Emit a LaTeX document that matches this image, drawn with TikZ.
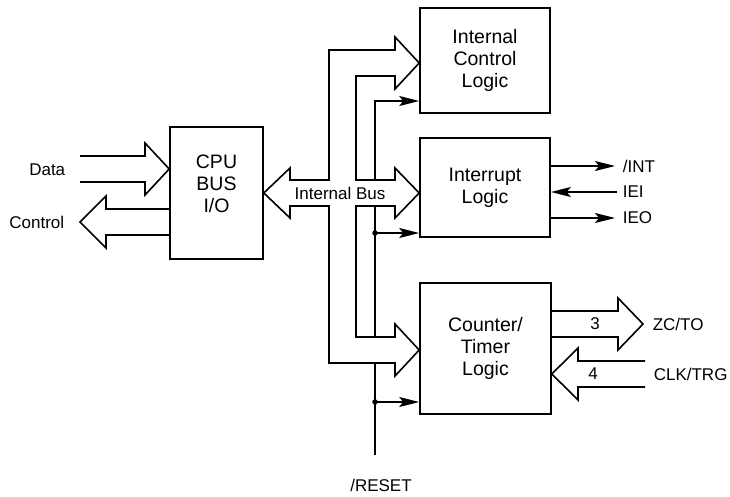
\documentclass[tikz,border=0pt]{standalone}
\usepackage{fontspec}
\setmainfont{Liberation Sans}
\usetikzlibrary{arrows.meta,calc}
\begin{document}
\begin{tikzpicture}[x=1pt,y=-1pt,
  line width=1.6pt, line join=miter,
  blk/.style={draw, rectangle, inner sep=0pt},
  blktext/.style={align=center, font=\fontsize{19.5}{22}\selectfont},
  lbl/.style={font=\fontsize{17}{19}\selectfont, inner sep=0pt},
  sig/.style={-{Stealth[length=20pt,width=10pt,inset=4pt]}},
  junction/.style={circle, fill, inner sep=0pt, minimum size=5.5pt},
]
\useasboundingbox[fill=white] (0,0) rectangle (730,497);

% function blocks
\node[blk, minimum width=93pt, minimum height=132pt] (cpu) at (216.5,193) {};
\node[blktext] (cputext) at (216.5,184) {CPU\\BUS\\I/O};
\node[blk, blktext, minimum width=130pt, minimum height=105pt] (icl) at (485,60.5) {Internal\\Control\\Logic};
\node[blk, blktext, minimum width=130pt, minimum height=99pt] (il) at (485,187.5) {Interrupt\\Logic};
\node[blk, blktext, minimum width=131pt, minimum height=131pt] (ct) at (485.5,348.5) {Counter/\\Timer\\Logic};

% external bus arrows on the CPU side
\node[lbl, anchor=east] (data) at (66,170) {Data};
\node[lbl, anchor=east] (ctrl) at (65,222) {Control};
\draw (80,156) -- (145,156) -- (145,143) -- (cpu.west |- 0,169) -- (145,195) -- (145,182) -- (80,182);
\draw (cpu.west |- 0,209) -- (106,209) -- (106,196) -- (80,222) -- (106,248) -- (106,235) -- (cpu.west |- 0,235);

% internal bus with its branches to the three blocks
\draw (329,180) -- (329,50) -- (395,50) -- (395,37) -- (icl.west |- 0,63) -- (395,89) -- (395,76)
  -- (356,76) -- (356,180) -- (395,180) -- (395,168) -- (il.west |- 0,193) -- (395,218) -- (395,206)
  -- (356,206) -- (356,337) -- (395,337) -- (395,324) -- (ct.west |- 0,350) -- (395,376) -- (395,363)
  -- (329,363) -- (329,206) -- (290,206) -- (290,218) -- (cpu.east |- 0,193) -- (290,168) -- (290,180) -- cycle;
\node[lbl] (ibus) at (340,193) {Internal Bus};

% reset line
\coordinate (r1) at (375,180);
\coordinate (r1top) at (375,101);
\coordinate (r2) at (375,206);
\coordinate (r2bot) at (375,337);
\coordinate (r3) at (375,363);
\coordinate (r3bot) at (375,455);
\node[junction] (j1) at (375,233) {};
\node[junction] (j2) at (375,402) {};
\node[lbl] (reset) at (381,485) {/RESET};
\draw[sig] (r1) -- (r1top) -- (icl.west |- r1top);
\draw (r2) -- (r2bot);
\draw[sig] (j1.center) -- (il.west |- j1);
\draw (r3) -- (r3bot);
\draw[sig] (j2.center) -- (ct.west |- j2);

% interrupt signals
\node[lbl, anchor=west] (int) at (622,166) {/INT};
\node[lbl, anchor=west] (iei) at (622,192) {IEI};
\node[lbl, anchor=west] (ieo) at (622,218) {IEO};
\draw[sig] (il.east |- int) -- (615,166);
\draw[sig] (617,192) -- (il.east |- iei);
\draw[sig] (il.east |- ieo) -- (615,218);

% counter/timer outputs and inputs
\node[lbl, anchor=west] (zcto) at (652,324) {ZC/TO};
\node[lbl, anchor=west] (clk) at (653,374) {CLK/TRG};
\draw (ct.east |- 0,311) -- (618,311) -- (618,298) -- (643,324) -- (618,350) -- (618,337) -- (ct.east |- 0,337);
\node[lbl] (n3) at (595,324) {3};
\draw (645,361) -- (578,361) -- (578,348) -- (ct.east |- 0,374) -- (578,400) -- (578,387) -- (645,387);
\node[lbl] (n4) at (593,374) {4};
\end{tikzpicture}
\end{document}
